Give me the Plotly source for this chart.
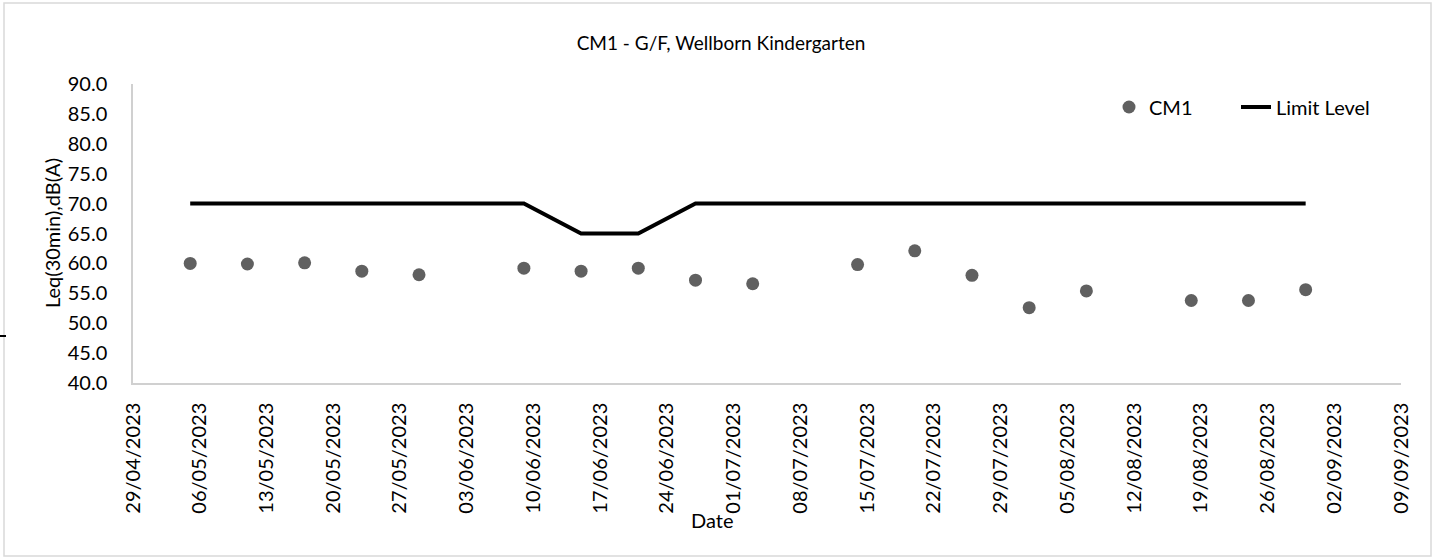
import plotly.graph_objects as go

# ---- data ----
dates = ['2023-05-05', '2023-05-11', '2023-05-17', '2023-05-23', '2023-05-29',
         '2023-06-09', '2023-06-15', '2023-06-21', '2023-06-27', '2023-07-03',
         '2023-07-14', '2023-07-20', '2023-07-26', '2023-08-01', '2023-08-07',
         '2023-08-18', '2023-08-24', '2023-08-30']
cm1 = [60.0, 59.9, 60.1, 58.7, 58.1,
       59.2, 58.7, 59.2, 57.2, 56.6,
       59.8, 62.1, 58.0, 52.6, 55.4,
       53.8, 53.8, 55.6]
limit = [70, 70, 70, 70, 70,
         70, 65, 65, 70, 70,
         70, 70, 70, 70, 70,
         70, 70, 70]
x_range = ['2023-04-29', '2023-09-09']
y_range = [40, 90]

title_text = "CM1 - G/F, Wellborn Kindergarten"
y_title = "Leq(30min),dB(A)"
x_title = "Date"

FONT = "Lato"
W, H = 1439, 559
L, R, T, B = 133, 38, 84, 176
pw, ph = W - L - R, H - T - B

def px_x(p):
    return (p - L) / pw

def px_y(p):
    return (H - B - p) / ph

fig = go.Figure()
fig.add_trace(go.Scatter(
    x=dates, y=cm1, mode='markers', name='CM1', legendwidth=82,
    marker=dict(color='#606060', size=13, line=dict(width=0)),
))
fig.add_trace(go.Scatter(
    x=dates, y=limit, mode='lines', name='Limit Level', legendwidth=115,
    line=dict(color='#000000', width=4),
))

fig.update_layout(
    width=W, height=H,
    margin=dict(l=L, r=R, t=T, b=B),
    paper_bgcolor='white', plot_bgcolor='white',
    font=dict(family=FONT, size=20, color='#000000'),
    title=dict(text=title_text, x=721 / W, xref='container', xanchor='center',
               y=1 - 43 / H, yref='container', yanchor='middle',
               font=dict(family=FONT, size=19, color='#000000')),
    showlegend=True,
    legend=dict(orientation='h', x=px_x(1109), xanchor='left',
                y=px_y(107), yanchor='middle',
                font=dict(family=FONT, size=20, color='#000000'),
                bgcolor='rgba(0,0,0,0)', itemwidth=30, tracegroupgap=0),
    xaxis=dict(
        type='date', range=x_range, tick0=x_range[0], dtick=7 * 24 * 3600 * 1000,
        tickformat='%d/%m/%Y', tickangle=-90, showgrid=False, zeroline=False,
        showline=True, linecolor='#d0d0d0', linewidth=1.5, ticks='',
        ticklabelstandoff=10,
        tickfont=dict(family=FONT, size=20, color='#000000'),
    ),
    yaxis=dict(
        range=y_range, dtick=5, tickformat='.1f', showgrid=False, zeroline=False,
        showline=True, linecolor='#d0d0d0', linewidth=1.5, ticks='',
        ticklabelstandoff=20,
        tickfont=dict(family=FONT, size=20, color='#000000'),
    ),
    annotations=[
        dict(text=y_title, xref='paper', yref='paper', x=px_x(52), y=px_y(233),
             xanchor='center', yanchor='middle', textangle=-90, showarrow=False,
             font=dict(family=FONT, size=20, color='#000000')),
        dict(text=x_title, xref='paper', yref='paper', x=px_x(712), y=px_y(520),
             xanchor='center', yanchor='middle', showarrow=False,
             font=dict(family=FONT, size=20, color='#000000')),
    ],
    shapes=[
        dict(type='rect', xref='paper', yref='paper',
             x0=px_x(4), x1=px_x(1431), y0=px_y(556), y1=px_y(3),
             line=dict(color='#d9d9d9', width=1.5), fillcolor='rgba(0,0,0,0)'),
        dict(type='line', xref='paper', yref='paper',
             x0=px_x(0), x1=px_x(6), y0=px_y(336), y1=px_y(336),
             line=dict(color='#000000', width=2)),
    ],
)

fig.write_html("out.html", config={'displayModeBar': False},
               post_script="document.body.style.margin='0';document.body.style.overflow='hidden';")
